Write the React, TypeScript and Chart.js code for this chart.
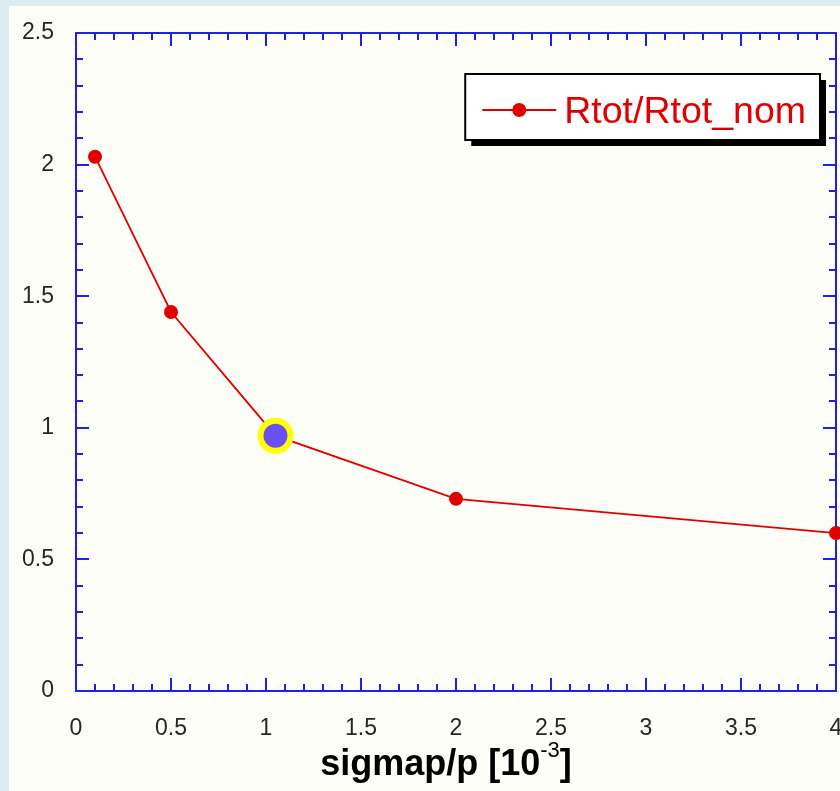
import { useEffect, useRef } from "react";
import { Chart, registerables } from "chart.js";

Chart.register(...registerables);

// Relative total resistance vs. momentum resolution
const sigmaValues = [0.1, 0.5, 1.05, 2, 4];
const ratioValues = [2.03, 1.44, 0.97, 0.73, 0.6];
const highlightIndex = 2;

const xTicks = [0, 0.5, 1, 1.5, 2, 2.5, 3, 3.5, 4];
const yTicks = [0, 0.5, 1, 1.5, 2, 2.5];
const minorStep = 0.1;

const seriesLabel = "Rtot/Rtot_nom";
const xTitleMain = "sigmap/p [10";
const xTitleExp = "-3";
const xTitleClose = "]";

const FONT = '"Liberation Sans", Arial, Helvetica, sans-serif';
const AXIS_BLUE = "#1f1fe6";
const RED = "#e00000";
const LABEL = "#262626";
const PANEL = "#fdfdf8";
const OUTER = "#dcedf2";
const TICK_SIZE = 23;

const fmt = (v: number) => String(v);

const framePlugin = {
  id: "frame",
  beforeDatasetsDraw(chart: any) {
    const { ctx, chartArea: a, scales } = chart;
    const x = scales.x;
    const y = scales.y;
    ctx.save();
    ctx.strokeStyle = AXIS_BLUE;
    ctx.lineWidth = 2;
    ctx.strokeRect(a.left, a.top, a.right - a.left, a.bottom - a.top);
    ctx.beginPath();
    const nx = Math.round((x.max - x.min) / minorStep);
    for (let i = 0; i <= nx; i++) {
      const px = Math.round(x.getPixelForValue(x.min + i * minorStep));
      const len = i % 5 === 0 ? 13 : 7;
      ctx.moveTo(px, a.bottom);
      ctx.lineTo(px, a.bottom - len);
      ctx.moveTo(px, a.top);
      ctx.lineTo(px, a.top + len);
    }
    const ny = Math.round((y.max - y.min) / minorStep);
    for (let i = 0; i <= ny; i++) {
      const py = Math.round(y.getPixelForValue(y.min + i * minorStep));
      const len = i % 5 === 0 ? 13 : 7;
      ctx.moveTo(a.left, py);
      ctx.lineTo(a.left + len, py);
      ctx.moveTo(a.right, py);
      ctx.lineTo(a.right - len, py);
    }
    ctx.stroke();

    // x tick labels
    ctx.fillStyle = LABEL;
    ctx.font = `${TICK_SIZE}px ${FONT}`;
    ctx.textAlign = "center";
    ctx.textBaseline = "alphabetic";
    for (const v of xTicks) {
      ctx.fillText(fmt(v), x.getPixelForValue(v), a.bottom + 44);
    }
    ctx.restore();
  },
};

const decorPlugin = {
  id: "decor",
  afterDraw(chart: any) {
    const { ctx, chartArea: a } = chart;
    ctx.save();

    // legend box with drop shadow
    ctx.font = `37.5px ${FONT}`;
    const textW = ctx.measureText(seriesLabel).width;
    const boxTop = a.top + 41;
    const boxH = 66;
    const boxRight = a.right - 16;
    const textLeftPad = 99;
    const boxW = textLeftPad + textW + 14;
    const boxLeft = boxRight - boxW;
    ctx.fillStyle = "#000";
    ctx.fillRect(boxLeft + 6, boxTop + 6, boxW, boxH);
    ctx.fillStyle = "#ffffff";
    ctx.fillRect(boxLeft, boxTop, boxW, boxH);
    ctx.strokeStyle = "#000";
    ctx.lineWidth = 2;
    ctx.strokeRect(boxLeft, boxTop, boxW, boxH);
    const midY = boxTop + 36;
    ctx.strokeStyle = RED;
    ctx.lineWidth = 1.8;
    ctx.beginPath();
    ctx.moveTo(boxLeft + 17, midY);
    ctx.lineTo(boxLeft + 91, midY);
    ctx.stroke();
    ctx.fillStyle = RED;
    ctx.beginPath();
    ctx.arc(boxLeft + 54, midY, 7, 0, Math.PI * 2);
    ctx.fill();
    ctx.textBaseline = "alphabetic";
    ctx.textAlign = "left";
    ctx.fillText(seriesLabel, boxLeft + textLeftPad, boxTop + 49);

    // x-axis title with superscript exponent
    const mainFont = `bold 36px ${FONT}`;
    const supFont = `22px ${FONT}`;
    ctx.font = mainFont;
    const wMain = ctx.measureText(xTitleMain).width;
    const wClose = ctx.measureText(xTitleClose).width;
    ctx.font = supFont;
    const wSup = ctx.measureText(xTitleExp).width;
    const total = wMain + wSup + wClose;
    const cx = (a.left + a.right) / 2 - 10;
    const base = a.bottom + 84;
    let tx = cx - total / 2;
    ctx.fillStyle = "#000";
    ctx.font = mainFont;
    ctx.fillText(xTitleMain, tx, base);
    tx += wMain;
    ctx.font = supFont;
    ctx.fillText(xTitleExp, tx, base - 18);
    tx += wSup;
    ctx.font = mainFont;
    ctx.fillText(xTitleClose, tx, base);

    ctx.restore();
  },
};

export default function App() {
  const canvasRef = useRef<HTMLCanvasElement | null>(null);

  useEffect(() => {
    const canvas = canvasRef.current;
    if (!canvas) return;
    const tickFont = { family: FONT, size: TICK_SIZE };
    const chart = new Chart(canvas, {
      type: "scatter",
      data: {
        datasets: [
          {
            label: "highlight",
            data: [{ x: sigmaValues[highlightIndex], y: ratioValues[highlightIndex] }],
            showLine: false,
            pointRadius: 15,
            pointBorderWidth: 6,
            pointBorderColor: "#ffff00",
            pointBackgroundColor: "#6a4ff4",
            order: 0,
            clip: false,
          },
          {
            label: seriesLabel,
            data: sigmaValues.map((v, i) => ({ x: v, y: ratioValues[i] })),
            showLine: true,
            borderColor: RED,
            backgroundColor: RED,
            borderWidth: 1.8,
            pointRadius: 7,
            pointBorderWidth: 0,
            pointBackgroundColor: RED,
            order: 1,
            clip: false,
          },
        ],
      },
      options: {
        animation: false,
        responsive: false,
        maintainAspectRatio: false,
        layout: { autoPadding: false, padding: { top: 27, right: 4, left: 0, bottom: 0 } },
        plugins: { legend: { display: false }, tooltip: { enabled: false } },
        scales: {
          x: {
            type: "linear",
            min: xTicks[0],
            max: xTicks[xTicks.length - 1],
            afterBuildTicks: (s: any) => {
              s.ticks = xTicks.map((v) => ({ value: v }));
            },
            ticks: { display: false },
            grid: { display: false, drawTicks: false },
            border: { display: false },
            afterFit: (s: any) => {
              s.height = 100;
              s.paddingLeft = 0;
              s.paddingRight = 0;
            },
          },
          y: {
            type: "linear",
            min: yTicks[0],
            max: yTicks[yTicks.length - 1],
            afterBuildTicks: (s: any) => {
              s.ticks = yTicks.map((v) => ({ value: v }));
            },
            ticks: { font: tickFont, color: LABEL, padding: 22, autoSkip: false, callback: (v: any) => fmt(Number(v)) },
            grid: { display: false, drawTicks: false },
            border: { display: false },
            afterFit: (s: any) => {
              s.width = 67;
              s.paddingTop = 0;
              s.paddingBottom = 0;
            },
          },
        },
      } as any,
      plugins: [framePlugin, decorPlugin],
    });
    return () => chart.destroy();
  }, []);

  return (
    <div
      style={{
        position: "fixed",
        left: 0,
        top: 0,
        width: 840,
        height: 791,
        background: OUTER,
        overflow: "hidden",
      }}
    >
      <canvas
        ref={canvasRef}
        width={831}
        height={785}
        style={{ position: "absolute", left: 9, top: 6, width: 831, height: 785, background: PANEL, display: "block" }}
      />
    </div>
  );
}
